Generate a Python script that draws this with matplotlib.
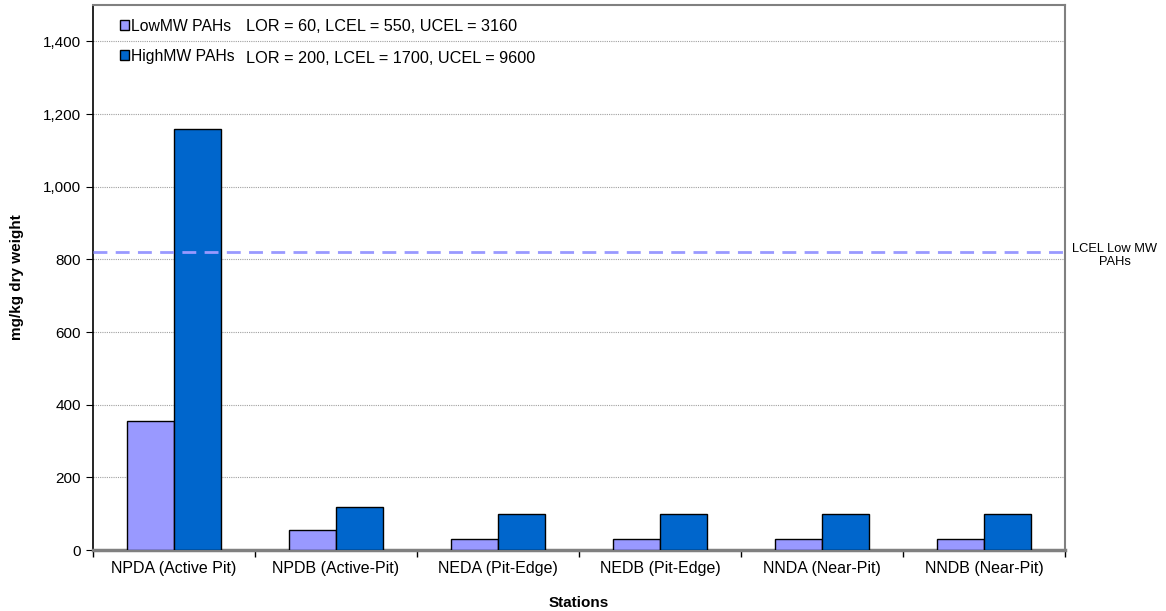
import numpy as np
import matplotlib
matplotlib.use("Agg")
import matplotlib.pyplot as plt
from matplotlib.patches import Patch

plt.rcParams['font.family'] = ['Liberation Sans', 'DejaVu Sans']

# data
stations = ["NPDA (Active Pit)", "NPDB (Active-Pit)", "NEDA (Pit-Edge)",
            "NEDB (Pit-Edge)", "NNDA (Near-Pit)", "NNDB (Near-Pit)"]
low_mw = [354, 54, 30, 30, 30, 30]
high_mw = [1160, 118, 100, 100, 100, 100]
series_names = ["LowMW PAHs", "HighMW PAHs"]
series_notes = ["LOR = 60, LCEL = 550, UCEL = 3160",
                "LOR = 200, LCEL = 1700, UCEL = 9600"]
lcel_low = 820
lcel_label = "LCEL Low MW\nPAHs"

low_col = "#9999ff"
high_col = "#0066cc"

fig = plt.figure(figsize=(11.66, 6.11), dpi=100)
ax = fig.add_axes([0.0798, 0.0998, 0.8336, 0.892])

x = np.arange(len(stations))
w = 0.29
ax.bar(x - w / 2, low_mw, w, color=low_col, edgecolor="black", linewidth=1.0, zorder=3)
ax.bar(x + w / 2, high_mw, w, color=high_col, edgecolor="black", linewidth=1.0, zorder=3)

# LCEL reference line
ax.axhline(lcel_low, color=low_col, linestyle=(0, (5, 3)), linewidth=2, zorder=4)
ax.text(1.051, (lcel_low - 10) / 1500, lcel_label, transform=ax.transAxes,
        ha="center", va="center", fontsize=9.3, linespacing=1.05)

ax.set_xlim(-0.5, len(stations) - 0.5)
ax.set_ylim(0, 1500)
ax.set_yticks(np.arange(0, 1401, 200))
ax.yaxis.set_major_formatter(matplotlib.ticker.FuncFormatter(lambda v, p: f"{int(v):,}"))
ax.yaxis.grid(True, color="#a0a0a0", linestyle=(0, (1, 1)), linewidth=0.8, zorder=0)

ax.set_xticks(x)
ax.set_xticklabels(stations, fontsize=11.5)
ax.set_xticks(np.arange(-0.5, len(stations) + 0.5, 1), minor=True)
ax.tick_params(axis="x", which="major", length=0, pad=8)
ax.tick_params(axis="x", which="minor", length=5, direction="out", width=1)
ax.tick_params(axis="y", labelsize=11, length=5, direction="out")

for s in ["top", "right"]:
    ax.spines[s].set_color("#808080")
    ax.spines[s].set_linewidth(1.5)
ax.spines["bottom"].set_color("#808080")
ax.spines["bottom"].set_linewidth(2.5)
ax.spines["left"].set_linewidth(1.2)

ax.set_ylabel("mg/kg dry weight", fontsize=11, fontweight="bold", labelpad=14)
ax.set_xlabel("Stations", fontsize=11, fontweight="bold", labelpad=14)

handles = [Patch(facecolor=low_col, edgecolor="black"),
           Patch(facecolor=high_col, edgecolor="black")]
ax.legend(handles, series_names, loc="upper left", bbox_to_anchor=(0.018, 0.992),
          frameon=False, fontsize=11.3, handlelength=0.6, handleheight=0.6,
          handletextpad=0.1, labelspacing=0.95, borderaxespad=0.2)
ax.text(0.157, 0.961, series_notes[0], transform=ax.transAxes, fontsize=11.7, va="center")
ax.text(0.157, 0.901, series_notes[1], transform=ax.transAxes, fontsize=11.7, va="center")

fig.savefig("out.png", dpi=100)
